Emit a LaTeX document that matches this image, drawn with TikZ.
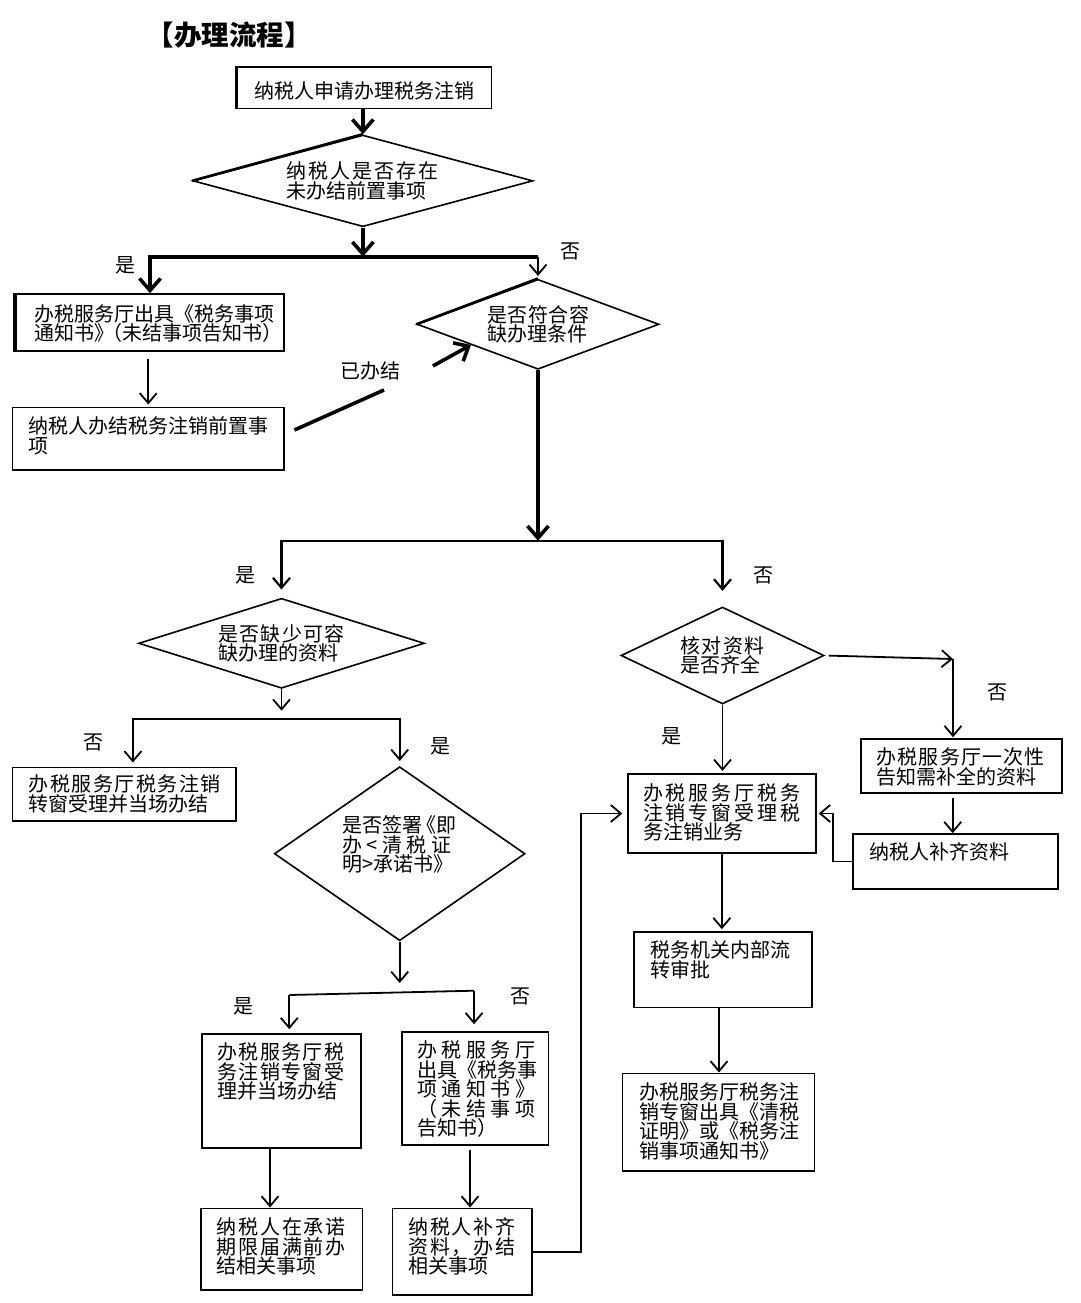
\documentclass[tikz,border=0pt]{standalone}
\usepackage{fontspec}
\setmainfont{Noto Sans CJK SC}
\usetikzlibrary{arrows.meta,shapes.geometric,calc}
\makeatletter
\newcommand\jl[2]{\makebox[#1][s]{\@tfor\jl@c:=#2\do{\jl@c\hfil}\unskip}}
\makeatother
\newcommand\fz{\fontsize{20}{19.5}\selectfont\lineskiplimit=-100pt\relax}
\newcommand\bt[3]{\begin{minipage}[c][#2][t]{#1}\raggedright #3\end{minipage}}
\tikzset{
  bx/.style={draw, line width=1.6pt, rectangle, inner sep=0pt, font=\fz},
  dm/.style={draw, line width=1.6pt, shape=diamond, inner sep=0pt, align=left, font=\fz},
  lb/.style={inner sep=0pt, font=\fz},
  ln/.style={line width=1.8pt, line join=miter},
  lm/.style={line width=2.2pt, line join=miter},
  lk/.style={line width=3.6pt, line join=miter},
  ah/.style={-{Straight Barb[length=10pt,width=17pt]}},
  ahk/.style={-{Straight Barb[length=12pt,width=21pt]}},
}
\begin{document}
\begin{tikzpicture}[x=1pt,y=-1pt]
\fill[white] (0,0) rectangle (1080,1303);
\useasboundingbox (0,0) rectangle (1080,1303);

% title
\node[inner sep=0pt, font=\bfseries\fontsize{27.5}{28}\selectfont] (title) at (229,35) {【办理流程】};

% boxes
\node[bx, minimum width=254, minimum height=41.5] (b1) at (364.5,87.75)
  {\bt{220pt}{12.1pt}{纳税人申请办理税务注销}};
\node[bx, minimum width=268, minimum height=56.7] (b2) at (150,322.35)
  {\bt{232pt}{36.1pt}{办税服务厅出具《税务事项\\通知书》\kern-12pt（未结事项告知书）}};
\node[bx, minimum width=271.5, minimum height=62.7] (b3) at (148.25,438.65)
  {\bt{239.3pt}{43.3pt}{纳税人办结税务注销前置事\\项}};
\node[bx, minimum width=223.2, minimum height=53.4] (b4) at (124.1,794)
  {\bt{191pt}{38pt}{\jl{192pt}{办税服务厅税务注销}\\转窗受理并当场办结}};
\node[bx, minimum width=159, minimum height=113.7] (b5) at (281.2,1090.85)
  {\bt{127.8pt}{96.3pt}{\jl{127pt}{办税服务厅税}\\\jl{127pt}{务注销专窗受}\\理并当场办结}};
\node[bx, minimum width=146.6, minimum height=113.3] (b6) at (475,1088.35)
  {\bt{115.4pt}{94.7pt}{\jl{118pt}{办税服务厅}\\\jl{118pt}{出具《税务事}\\\jl{118pt}{项通知书》}\\\jl{118pt}{（未结事项}\\告知书）}};
\node[bx, minimum width=161.6, minimum height=81.7] (b7) at (281.5,1249.15)
  {\bt{129.6pt}{62.9pt}{\jl{129pt}{纳税人在承诺}\\\jl{129pt}{期限届满前办}\\结相关事项}};
\node[bx, minimum width=139.4, minimum height=86.7] (b8) at (462,1251.65)
  {\bt{107.4pt}{67.9pt}{\jl{107pt}{纳税人补齐}\\\jl{107pt}{资料，办结}\\相关事项}};
\node[bx, minimum width=188.3, minimum height=79] (b9) at (721.85,813.5)
  {\bt{157.7pt}{59.6pt}{\jl{157pt}{办税服务厅税务}\\\jl{157pt}{注销专窗受理税}\\务注销业务}};
\node[bx, minimum width=201, minimum height=54] (b10) at (961.5,766)
  {\bt{169.6pt}{36.6pt}{\jl{168pt}{办税服务厅一次性}\\告知需补全的资料}};
\node[bx, minimum width=205, minimum height=55] (b11) at (955.5,861.5)
  {\bt{173pt}{37.6pt}{纳税人补齐资料}};
\node[bx, minimum width=177.7, minimum height=75.3] (b12) at (722.85,969.65)
  {\bt{145.7pt}{57.3pt}{税务机关内部流\\转审批}};
\node[bx, minimum width=192, minimum height=97.4] (b13) at (718.3,1122)
  {\bt{158.6pt}{78.6pt}{办税服务厅税务注\\销专窗出具《清税\\证明》或《税务注\\销事项通知书》}};

% diamonds
\node[dm, aspect=3.7, minimum width=340, minimum height=91.7] (d1) at (362.9,180.85)
  {\jl{152pt}{纳税人是否存在}\\未办结前置事项};
\node[dm, aspect=2.69, minimum width=242, minimum height=90] (d2) at (538,324.3)
  {\jl{102pt}{是否符合容}\\缺办理条件};
\node[dm, aspect=3.17, minimum width=285.7, minimum height=90] (d3) at (281.5,643.3)
  {\jl{126pt}{是否缺少可容}\\缺办理的资料};
\node[dm, aspect=1.44, minimum width=250.7, minimum height=174] (d4) at (399.7,853.7)
  {\bt{115pt}{75.4pt}{是否签署\kern-6pt《即\\\jl{109pt}{办<清税证}\\明>承诺书》}};
\node[dm, aspect=2.09, minimum width=203, minimum height=97] (d5) at (722.5,655.5)
  {\jl{84pt}{核对资料}\\是否齐全};

% thicker edges
\draw[line width=3.5pt] (b1.north west) -- (b1.south west);
\draw[line width=3.5pt] (b2.north west) -- (b2.south west);
\draw[line width=2.6pt] (d1.west) -- (d1.north);
\draw[line width=2.6pt] (d2.west) -- (d2.north);

% labels
\node[lb] (l1) at (125,265) {是};
\node[lb] (l2) at (570.4,251.7) {否};
\node[lb] (l3) at (245,575) {是};
\node[lb] (l4) at (763.7,575) {否};
\node[lb] (l5) at (93.6,742.7) {否};
\node[lb] (l6) at (440,746.7) {是};
\node[lb] (l7) at (243,1006.7) {是};
\node[lb] (l8) at (520,996.7) {否};
\node[lb] (l9) at (671,736) {是};
\node[lb] (l10) at (997,692) {否};
\node[lb] (lyb) at (370.5,370.7) {已办结};

% connectors
\draw[lk,ahk] (d1.north |- b1.south) -- (d1.north);
\coordinate (j1) at (362.9,256.7);
\draw[lk,ahk] (d1.south) -- (j1);
\draw[lk,ahk] (j1 -| d2.north) -| (b2.north);
\draw[ln,ah,shorten >=2.6pt] (j1 -| d2.north) -- (d2.north);
\draw[ln,ah,shorten <=7.6pt,shorten >=2pt] (b3.north |- b2.south) -- (b3.north);
\coordinate (k1) at (384,390);
\coordinate (k2) at (432.9,366);
\draw[lk] ($(b3.east)+(9.6,-8.6)$) -- (k1);
\draw[lk,ahk] (k2) -- ($(d2.west)!0.45!(d2.south)$);

\coordinate (j2) at (538,540.7);
\draw[lk,ahk] (d2.south) -- (j2);
\draw[lm,ah,shorten >=8pt] (j2) -| (d3.north);
\draw[lm,ah,shorten >=15.3pt] (j2) -| (d5.north);

\coordinate (j3) at (281.5,719.3);
\draw[ln,ah,shorten >=8.6pt] (d3.south) -- (j3);
\draw[ln,ah,shorten >=4pt] (j3) -| ($(b4.north)+(8.8,0)$);
\draw[ln,ah,shorten >=5pt] (j3) -| (d4.north);

\coordinate (j4) at (399.7,992.6);
\coordinate (j4l) at (289.3,995);
\coordinate (j4r) at (474,990.7);
\draw[ln,ah,shorten >=9.6pt] (d4.south) -- (j4);
\draw[ln] (j4l) -- (j4r);
\draw[ln,ah,shorten >=4pt] (j4l) -- (j4l |- b5.north);
\draw[ln,ah,shorten >=6.7pt] (j4r) -- (j4r |- b6.north);

\draw[ln,ah] ($(b5.south)+(-11.2,0)$) -- ($(b7.north)+(-11.5,0)$);
\draw[ln,ah,shorten <=4pt] ($(b6.south)+(-5,0)$) -- ($(b8.north)+(8,0)$);
\draw[ln,ah,shorten >=4.7pt] (b8.east) -- ++(48.3,0) |- (b9.west);

\draw[ln,ah,shorten >=2.3pt] (d5.south) -- (d5.south |- b9.north);
\coordinate (c5) at (953,659);
\draw[ln,ah,shorten <=4pt] (d5.east) -- (c5);
\draw[ln,ah,shorten >=1pt] (c5) -- (c5 |- b10.north);
\draw[ln,ah,shorten <=3.7pt] ($(b10.south)+(-8.8,0)$) -- ($(b11.north)+(-2.8,0)$);
\draw[ln,ah,shorten >=2pt] (b11.west) -- ++(-19,0) |- (b9.east);
\draw[ln,ah,shorten >=2pt] (b9.south) -- (b9.south |- b12.north);
\draw[ln,ah] ($(b12.south)+(-3.8,0)$) -- ($(b13.north)+(0.7,0)$);
\end{tikzpicture}
\end{document}
